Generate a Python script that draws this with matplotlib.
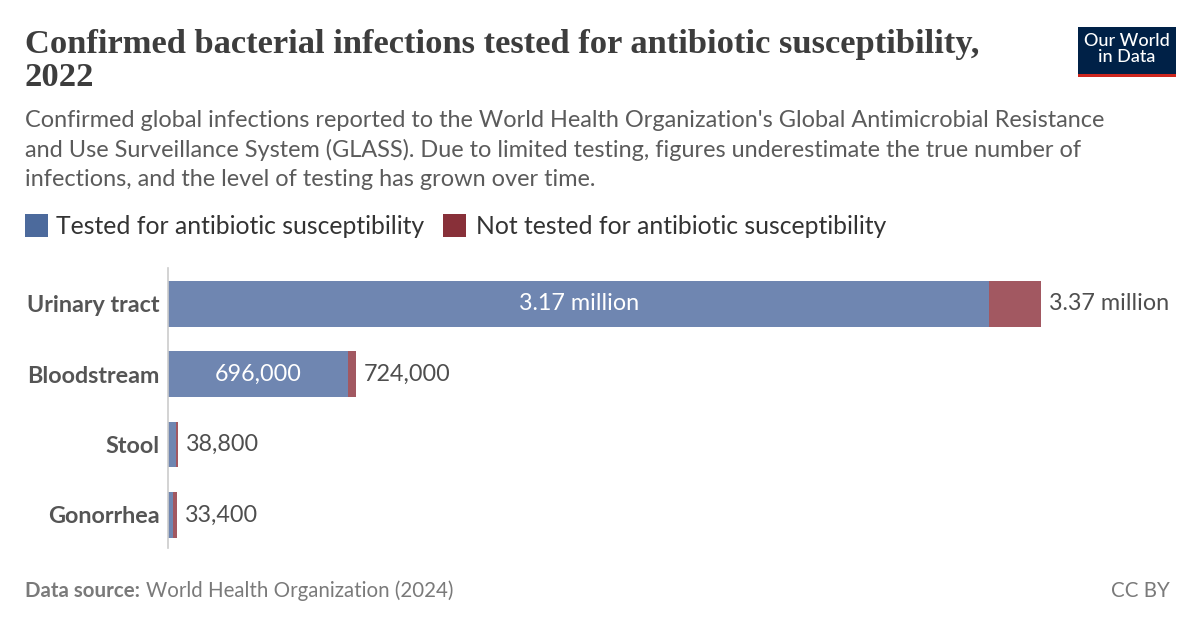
import matplotlib.pyplot as plt
from matplotlib.patches import Rectangle

# 数据
categories = ["Urinary tract", "Bloodstream", "Stool", "Gonorrhea"]
tested = [3170000, 696000, 30000, 18000]
totals = [3370000, 724000, 38800, 33400]
inside_labels = ["3.17 million", "696,000", "", ""]
total_labels = ["3.37 million", "724,000", "38,800", "33,400"]
not_tested = [t - s for t, s in zip(totals, tested)]

W, H = 1200, 628
BLUE = "#6f86b1"
RED = "#a25861"
SANS = ["Lato", "DejaVu Sans"]
SERIF = ["Liberation Serif", "DejaVu Serif"]


def fx(x):
    return x / W


def fy(y):
    return 1 - y / H


fig = plt.figure(figsize=(12, 6.28), dpi=100)

# 标题和副标题
fig.text(fx(25), fy(44), "Confirmed bacterial infections tested for antibiotic susceptibility,",
         family=SERIF, fontsize=24.8, fontweight="bold", color="#3d3d3d", va="center")
fig.text(fx(25), fy(78), "2022", family=SERIF, fontsize=24.8, fontweight="bold",
         color="#3d3d3d", va="center")
subtitle = ("Confirmed global infections reported to the World Health Organization's Global Antimicrobial Resistance\n"
            "and Use Surveillance System (GLASS). Due to limited testing, figures underestimate the true number of\n"
            "infections, and the level of testing has grown over time.")
fig.text(fx(25), fy(110), subtitle, family=SANS, fontsize=16.9, color="#5b5b5b",
         va="top", linespacing=1.45)

# logo
fig.patches.append(Rectangle((fx(1078), fy(77)), fx(98), 50 / H, transform=fig.transFigure,
                             facecolor="#002147", edgecolor="none"))
fig.patches.append(Rectangle((fx(1078), fy(77)), fx(98), 3 / H, transform=fig.transFigure,
                             facecolor="#ce261e", edgecolor="none"))
fig.text(fx(1127), fy(49), "Our World\nin Data", family=SANS, fontsize=13, color="white",
         ha="center", va="center", linespacing=1.0, fontweight="medium")

# 图例
fig.patches.append(Rectangle((fx(25), fy(237)), fx(23), 23 / H, transform=fig.transFigure,
                             facecolor="#4c6a9c", edgecolor="none"))
fig.text(fx(56), fy(226), "Tested for antibiotic susceptibility", family=SANS, fontsize=17.8,
         color="#333333", va="center")
fig.patches.append(Rectangle((fx(443), fy(237)), fx(23), 23 / H, transform=fig.transFigure,
                             facecolor="#883039", edgecolor="none"))
fig.text(fx(476), fy(226), "Not tested for antibiotic susceptibility", family=SANS, fontsize=17.8,
         color="#333333", va="center")

# 条形图
ax = fig.add_axes([fx(168), fy(548), fx(1180 - 168), (548 - 268) / H])
y = list(range(len(categories)))
ax.barh(y, tested, height=0.65, color=BLUE, edgecolor="none")
ax.barh(y, not_tested, left=tested, height=0.65, color=RED, edgecolor="none")
ax.set_ylim(3.47, -0.51)
ax.set_xlim(0, 3.906e6)
for i in y:
    if inside_labels[i]:
        ax.text(tested[i] / 2, i, inside_labels[i], ha="center", va="center",
                color="white", family=SANS, fontsize=16.8)
    ax.annotate(total_labels[i], (totals[i], i), xytext=(6, 0), textcoords="offset points",
                ha="left", va="center", color="#4e4e4e", family=SANS, fontsize=16.8)

ax.set_yticks(y)
ax.set_yticklabels(categories, family=SANS, fontsize=16.8, fontweight="bold", color="#555555")
ax.tick_params(axis="y", length=0, pad=6)
ax.set_xticks([])
for s in ["top", "right", "bottom"]:
    ax.spines[s].set_visible(False)
ax.spines["left"].set_color("#cccccc")
ax.spines["left"].set_linewidth(1.2)

# 页脚
fig.text(fx(25), fy(591), "Data source:", family=SANS, fontsize=14.8, fontweight="bold",
         color="#7a7a7a", va="center")
fig.text(fx(146), fy(591), "World Health Organization (2024)", family=SANS, fontsize=14.8,
         color="#7a7a7a", va="center")
fig.text(fx(1170), fy(591), "CC BY", family=SANS, fontsize=14.8, color="#7a7a7a",
         va="center", ha="right")

fig.savefig("out.png", dpi=100, facecolor="white")
